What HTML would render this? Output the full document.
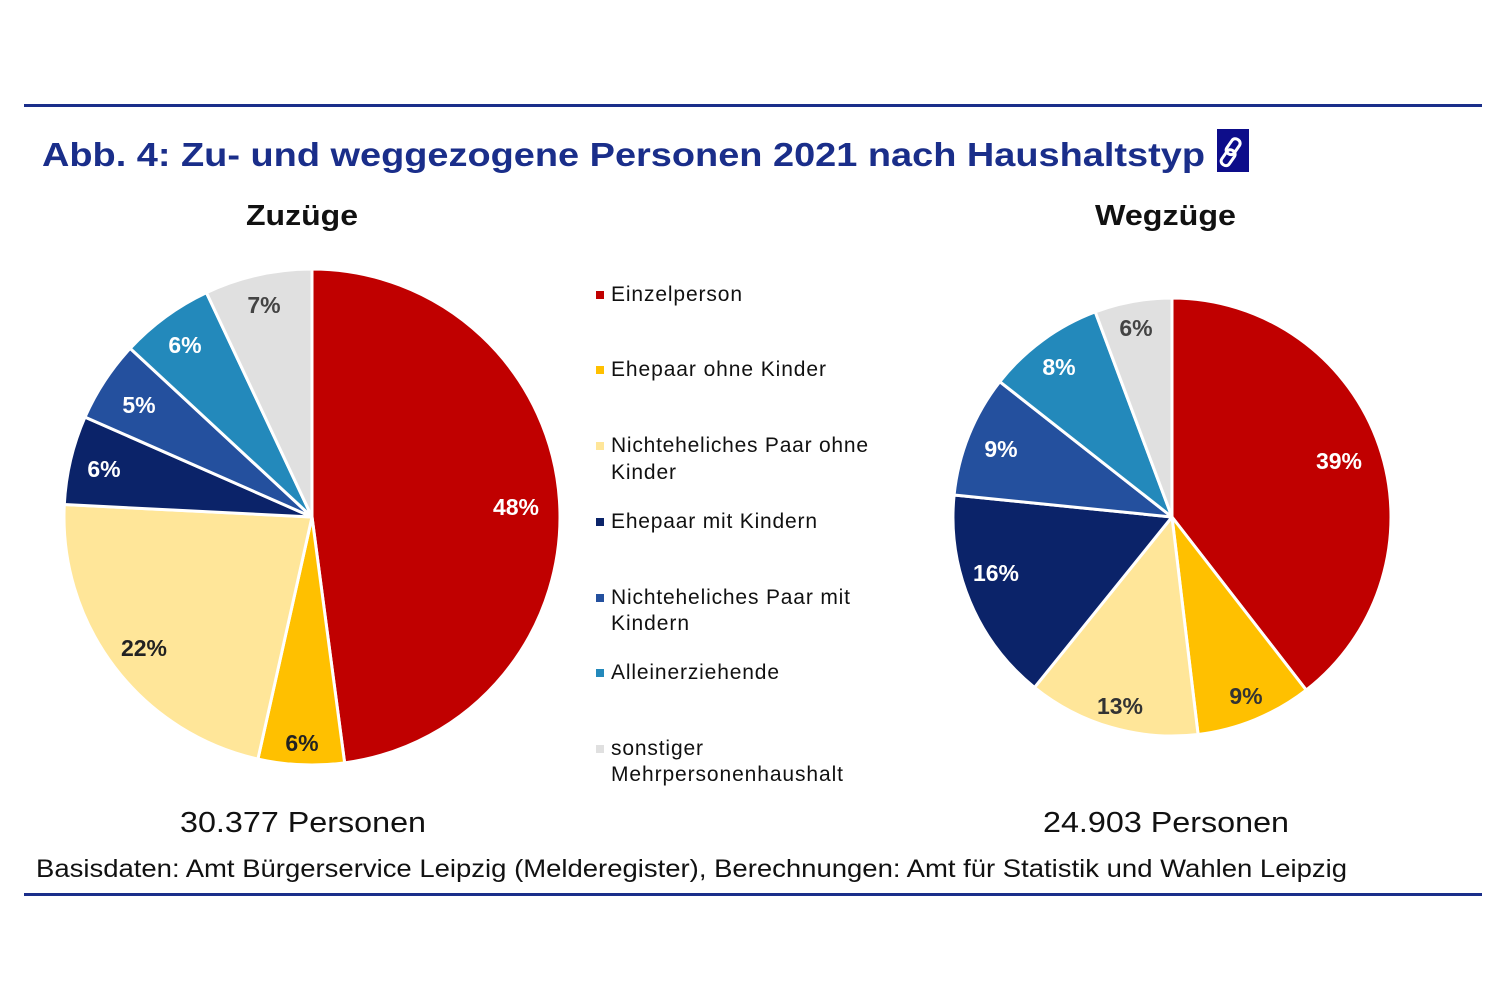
<!DOCTYPE html>
<html><head><meta charset="utf-8"><style>
body{margin:0;background:#fff;width:1500px;height:1000px;overflow:hidden;font-family:"Liberation Sans",Arial,sans-serif}
svg text{font-family:"Liberation Sans",Arial,sans-serif}
</style></head><body>
<svg id="s" width="1500" height="1000" viewBox="0 0 1500 1000">
<rect x="24" y="104" width="1458" height="3" fill="#1a2e8a"/>
<rect x="24" y="893" width="1458" height="3" fill="#1a2e8a"/>
<text x="42" y="166" font-size="33" font-weight="bold" fill="#1a2e8a" textLength="1163" lengthAdjust="spacingAndGlyphs">Abb. 4:  Zu- und weggezogene Personen 2021 nach Haushaltstyp</text>
<rect x="1217" y="129" width="32" height="43" fill="#0d0d8a"/>
<g fill="none" stroke="#fff" stroke-width="3">
<rect x="1229" y="138" width="9" height="17" rx="4" transform="rotate(35 1233 146)"/>
<rect x="1224" y="149" width="9" height="17" rx="4" transform="rotate(35 1228 157)"/>
</g>
<text x="246" y="225" font-size="29" font-weight="bold" fill="#111" textLength="112" lengthAdjust="spacingAndGlyphs">Zuzüge</text>
<text x="1095" y="225" font-size="29" font-weight="bold" fill="#111" textLength="141" lengthAdjust="spacingAndGlyphs">Wegzüge</text>
<g id="p1"></g><g id="p2"></g>
<g font-size="23" font-weight="bold">
<text x="516" y="515" text-anchor="middle" fill="#fff">48%</text>
<text x="302" y="751" text-anchor="middle" fill="#222">6%</text>
<text x="144" y="656" text-anchor="middle" fill="#222">22%</text>
<text x="104" y="477" text-anchor="middle" fill="#fff">6%</text>
<text x="139" y="413" text-anchor="middle" fill="#fff">5%</text>
<text x="185" y="353" text-anchor="middle" fill="#fff">6%</text>
<text x="264" y="313" text-anchor="middle" fill="#444">7%</text>
<text x="1339" y="469" text-anchor="middle" fill="#fff">39%</text>
<text x="1246" y="704" text-anchor="middle" fill="#333">9%</text>
<text x="1120" y="714" text-anchor="middle" fill="#333">13%</text>
<text x="996" y="581" text-anchor="middle" fill="#fff">16%</text>
<text x="1001" y="457" text-anchor="middle" fill="#fff">9%</text>
<text x="1059" y="375" text-anchor="middle" fill="#fff">8%</text>
<text x="1136" y="336" text-anchor="middle" fill="#444">6%</text>
</g>
<g font-size="21" fill="#111" lengthAdjust="spacingAndGlyphs">
<rect x="596" y="291" width="8" height="8" fill="#c00000"/><text x="611" y="301" textLength="131">Einzelperson</text>
<rect x="596" y="366" width="8" height="8" fill="#ffc000"/><text x="611" y="376" textLength="215">Ehepaar ohne Kinder</text>
<rect x="596" y="442" width="8" height="8" fill="#ffe699"/><text x="611" y="452" textLength="257">Nichteheliches Paar ohne</text><text x="611" y="479" textLength="65">Kinder</text>
<rect x="596" y="518" width="8" height="8" fill="#0b2369"/><text x="611" y="528" textLength="206">Ehepaar mit Kindern</text>
<rect x="596" y="594" width="8" height="8" fill="#24509e"/><text x="611" y="604" textLength="239">Nichteheliches Paar mit</text><text x="611" y="630" textLength="78">Kindern</text>
<rect x="596" y="669" width="8" height="8" fill="#2389bb"/><text x="611" y="679" textLength="168">Alleinerziehende</text>
<rect x="596" y="745" width="8" height="8" fill="#e0e0e0"/><text x="611" y="755" textLength="92">sonstiger</text><text x="611" y="781" textLength="232">Mehrpersonenhaushalt</text>
</g>
<text x="180" y="832" font-size="29" fill="#111" textLength="246" lengthAdjust="spacingAndGlyphs">30.377 Personen</text>
<text x="1043" y="832" font-size="29" fill="#111" textLength="246" lengthAdjust="spacingAndGlyphs">24.903 Personen</text>
<text x="36" y="877" font-size="25" fill="#111" textLength="1311" lengthAdjust="spacingAndGlyphs">Basisdaten: Amt Bürgerservice Leipzig (Melderegister), Berechnungen: Amt für Statistik und Wahlen Leipzig</text>
</svg>
<script>
var cols=["#c00000","#ffc000","#ffe699","#0b2369","#24509e","#2389bb","#e0e0e0"];
function pie(id,cx,cy,r,cum){
 var g=document.getElementById(id),prev=0,h="";
 cum.push(1);
 for(var i=0;i<cum.length;i++){
  var a0=prev*2*Math.PI,a1=cum[i]*2*Math.PI;
  var x0=cx+r*Math.sin(a0),y0=cy-r*Math.cos(a0),x1=cx+r*Math.sin(a1),y1=cy-r*Math.cos(a1);
  var lg=(cum[i]-prev)>0.5?1:0;
  h+='<path d="M'+cx+','+cy+' L'+x0+','+y0+' A'+r+','+r+' 0 '+lg+' 1 '+x1+','+y1+' Z" fill="'+cols[i]+'" stroke="#fff" stroke-width="3" stroke-linejoin="round"/>';
  prev=cum[i];
 }
 g.innerHTML=h;
}
pie("p1",312,517,248,[0.479,0.535,0.758,0.816,0.869,0.93]);
pie("p2",1172,517,219,[0.395,0.481,0.608,0.766,0.856,0.943]);
</script>
</body></html>
